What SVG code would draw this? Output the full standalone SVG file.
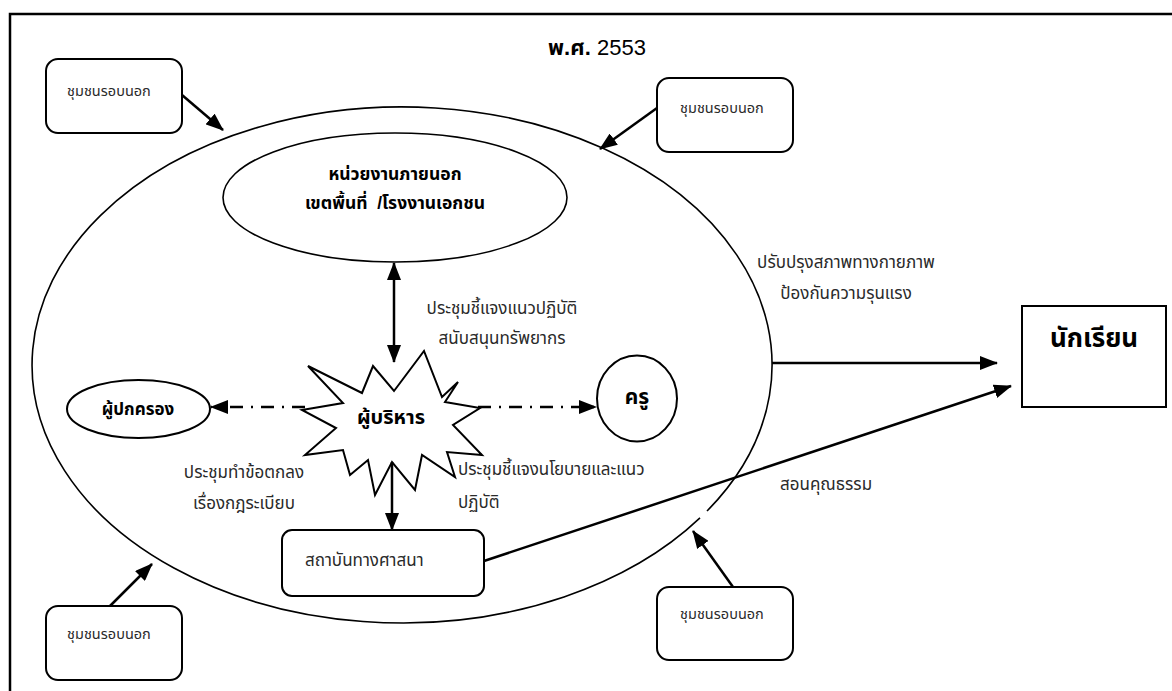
<svg xmlns="http://www.w3.org/2000/svg" width="1172" height="691" viewBox="0 0 1172 691">
<defs>
<style>
.ln{fill:none;stroke:#000;stroke-width:2.5}
.sh{fill:#fff;stroke:#000;stroke-width:2}
.th{fill:none;stroke:#000;stroke-width:1.6}
.dd{fill:none;stroke:#000;stroke-width:2.5;stroke-dasharray:13 8 2 8}
text{font-family:"Liberation Sans","Noto Sans Thai","Noto Sans",sans-serif;fill:#2a2a2a}
.lb{font-size:17px}
.sm{font-size:14.5px}
.b{font-weight:bold;fill:#000}
</style>
<marker id="arr" viewBox="0 0 18 14" refX="17" refY="7" markerWidth="18" markerHeight="14" orient="auto-start-reverse" markerUnits="userSpaceOnUse"><path d="M0,0 L18,7 L0,14 z" fill="#000"/></marker>
</defs>
<rect width="1172" height="691" fill="#fff"/>
<path d="M10,691 V14 H1172" fill="none" stroke="#000" stroke-width="2.5"/>
<g id="title"><text x="597" y="55" text-anchor="middle" style="font-size:22px;fill:#000"><tspan font-weight="bold">พ.ศ.</tspan> 2553</text></g>
<g id="school"><path class="th" d="M707,511.06 A370,258 0 1 0 700,517.92"/></g>
<g id="external"><ellipse class="th" cx="395" cy="197.5" rx="172" ry="64.5"/>
<text class="b" x="395" y="180" text-anchor="middle" style="font-size:17.5px">หน่วยงานภายนอก</text>
<text class="b" x="395" y="209" text-anchor="middle" style="font-size:17.5px;white-space:pre" xml:space="preserve">เขตพื้นที่  /โรงงานเอกชน</text></g>
<g id="parent"><ellipse class="sh" cx="138.5" cy="409" rx="71.5" ry="29"/>
<text class="b" x="138" y="415" text-anchor="middle" style="font-size:17px">ผู้ปกครอง</text></g>
<g id="teacher"><ellipse class="sh" cx="637" cy="398.5" rx="40" ry="43"/>
<text class="b" x="637" y="404" text-anchor="middle" style="font-size:21px">ครู</text></g>
<g id="executive"><polygon class="sh" points="308,366 362,393 373,366 394,391 424,351 442,397 458,382 445,402 480,408 453,425 482,455 447,452 455,477 422,455 415,490 392,462 375,495 368,460 350,475 343,450 305,455 336,428 302,410 343,403"/>
<text class="b" x="391" y="424" text-anchor="middle" style="font-size:20px">ผู้บริหาร</text></g>
<g id="religion"><rect class="sh" x="282" y="530" width="202" height="66" rx="10"/>
<text class="lb" x="305" y="566">สถาบันทางศาสนา</text></g>
<g id="student"><rect class="sh" x="1022" y="306" width="144" height="101"/>
<text class="b" x="1094" y="347" text-anchor="middle" style="font-size:26px">นักเรียน</text></g>
<g id="community1"><rect class="sh" x="46" y="59" width="136" height="74" rx="12"/><text class="sm" x="67" y="96">ชุมชนรอบนอก</text></g>
<g id="community2"><rect class="sh" x="657" y="78" width="136" height="74" rx="12"/><text class="sm" x="680" y="113">ชุมชนรอบนอก</text></g>
<g id="community3"><rect class="sh" x="46" y="606" width="136" height="74" rx="12"/><text class="sm" x="67" y="639">ชุมชนรอบนอก</text></g>
<g id="community4"><rect class="sh" x="657" y="587" width="136" height="73" rx="12"/><text class="sm" x="680" y="619">ชุมชนรอบนอก</text></g>
<g id="connectors">
<line class="ln" x1="394" y1="263" x2="394" y2="362" marker-start="url(#arr)" marker-end="url(#arr)"/>
<line class="dd" x1="305" y1="407" x2="211" y2="407" marker-end="url(#arr)"/>
<line class="dd" x1="478" y1="407" x2="596" y2="407" marker-end="url(#arr)"/>
<line class="ln" x1="392" y1="462" x2="392" y2="530" marker-end="url(#arr)"/>
<line class="ln" x1="772" y1="363" x2="997" y2="363" marker-end="url(#arr)"/>
<line class="ln" x1="484" y1="561" x2="1011" y2="386" marker-end="url(#arr)"/>
<line class="ln" x1="182" y1="95" x2="223" y2="130" marker-end="url(#arr)"/>
<line class="ln" x1="657" y1="108" x2="600" y2="149" marker-end="url(#arr)"/>
<line class="ln" x1="110" y1="606" x2="152" y2="564" marker-end="url(#arr)"/>
<line class="ln" x1="733" y1="587" x2="693" y2="531" marker-end="url(#arr)"/>
</g>
<g id="labels">
<text class="lb" x="502" y="314" text-anchor="middle">ประชุมชี้แจงแนวปฏิบัติ</text>
<text class="lb" x="502" y="344" text-anchor="middle">สนับสนุนทรัพยากร</text>
<text class="lb" x="244" y="478" text-anchor="middle">ประชุมทำข้อตกลง</text>
<text class="lb" x="244" y="509" text-anchor="middle">เรื่องกฎระเบียบ</text>
<text class="lb" x="458" y="475">ประชุมชี้แจงนโยบายและแนว</text>
<text class="lb" x="458" y="508">ปฏิบัติ</text>
<text class="lb" x="846" y="268" text-anchor="middle">ปรับปรุงสภาพทางกายภาพ</text>
<text class="lb" x="846" y="299" text-anchor="middle">ป้องกันความรุนแรง</text>
<text class="lb" x="780" y="490">สอนคุณธรรม</text>
</g>
</svg>
